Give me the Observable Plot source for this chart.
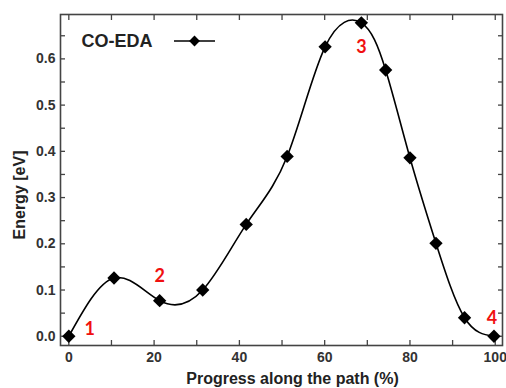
<!DOCTYPE html>
<html>
<head>
<meta charset="utf-8">
<script src="https://cdn.jsdelivr.net/npm/d3@7"></script>
<script src="https://cdn.jsdelivr.net/npm/@observablehq/plot@0.6"></script>
<style>
  html, body { margin: 0; padding: 0; background: #fff; }
  #chart { position: relative; width: 506px; height: 388px; }
</style>
</head>
<body>
<div id="chart"></div>
<script>
// Data
const progress = [0, 10.6, 21.3, 31.4, 41.6, 51.2, 60.1, 68.6, 74.3, 80.0, 86.1, 92.8, 99.7];
const energy   = [0.000, 0.126, 0.077, 0.100, 0.242, 0.389, 0.626, 0.678, 0.576, 0.386, 0.201, 0.040, 0.000];
const seriesName = "CO-EDA";
const xTicks = [0, 20, 40, 60, 80, 100];
const xMinorTicks = [0, 10, 20, 30, 40, 50, 60, 70, 80, 90, 100];
const yTicks = [0, 0.1, 0.2, 0.3, 0.4, 0.5, 0.6];
const yMinorTicks = [0, 0.05, 0.1, 0.15, 0.2, 0.25, 0.3, 0.35, 0.4, 0.45, 0.5, 0.55, 0.6, 0.65];
const stateLabels = ["1", "2", "3", "4"];
const stateIndex = [0, 2, 7, 12]; // point each state label refers to
const xTitle = "Progress along the path (%)";
const yTitle = "Energy [eV]";

const data = progress.map((x, i) => ({x, y: energy[i]}));
const font = "'Liberation Sans', Arial, sans-serif";
const red = "#f01010";
const labelOffsets = [[21, -7], [0, -24], [0, 24], [-2, -18]];

const stateMarks = stateLabels.map((t, k) =>
  Plot.text([data[stateIndex[k]]], {
    x: "x", y: "y", text: () => t,
    dx: labelOffsets[k][0], dy: labelOffsets[k][1],
    fill: red, fontSize: 18, fontWeight: "bold",
    fontFamily: "Lato, 'Open Sans', sans-serif"
  })
);

const plot = Plot.plot({
  width: 506,
  height: 388,
  marginLeft: 60,
  marginRight: 4,
  marginTop: 14,
  marginBottom: 43,
  style: {fontFamily: font, background: "#fff", overflow: "visible"},
  x: {domain: [-1.95, 101.7]},
  y: {domain: [-0.02, 0.696]},
  marks: [
    // inward ticks on all four sides
    Plot.axisX(xMinorTicks, {anchor: "bottom", tickSize: 5, dy: -5, text: null, label: null, stroke: "#444", strokeWidth: 1.3}),
    Plot.axisX(xMinorTicks, {anchor: "top", tickSize: 5, dy: 5, text: null, label: null, stroke: "#444", strokeWidth: 1.3}),
    Plot.axisY(yMinorTicks, {anchor: "left", tickSize: 5, dx: 5, text: null, label: null, stroke: "#444", strokeWidth: 1.3}),
    Plot.axisY(yMinorTicks, {anchor: "right", tickSize: 5, dx: -5, text: null, label: null, stroke: "#444", strokeWidth: 1.3}),
    // tick labels
    Plot.axisX(xTicks, {anchor: "bottom", tickSize: 0, tickPadding: 7, label: null, fontSize: 14, fontWeight: "bold", fill: "#333"}),
    Plot.axisY(yTicks, {anchor: "left", tickSize: 0, tickPadding: 5, label: null, tickFormat: d3.format(".1f"), fontSize: 14, fontWeight: "bold", fill: "#333"}),
    Plot.frame({stroke: "#444", strokeWidth: 1.6}),
    // curve + points
    Plot.line(data, {x: "x", y: "y", curve: "natural", stroke: "#000", strokeWidth: 1.6}),
    Plot.dot(data, {x: "x", y: "y", symbol: "diamond2", r: 6, fill: "#000", stroke: "none"}),
    ...stateMarks,
    // axis titles
    Plot.text([xTitle], {frameAnchor: "bottom", lineAnchor: "middle", dy: 33, dx: 11, fontSize: 16, fontWeight: "bold", fill: "#222"}),
    Plot.text([yTitle], {frameAnchor: "left", textAnchor: "middle", lineAnchor: "middle", rotate: -90, dx: -41, dy: 15, fontSize: 16, fontWeight: "bold", fill: "#222"}),
    // legend label
    Plot.text([seriesName], {frameAnchor: "top-left", textAnchor: "start", lineAnchor: "middle", dx: 21, dy: 27, fontSize: 18, fontWeight: "bold", fill: "#222"})
  ]
});

// legend sample (line + diamond) next to the legend label
const svg = d3.select(plot);
const lg = svg.append("g").attr("transform", "translate(174,41)");
lg.append("line").attr("x1", 0).attr("x2", 41).attr("y1", 0).attr("y2", 0)
  .attr("stroke", "#000").attr("stroke-width", 1.6);
lg.append("path").attr("d", d3.symbol(d3.symbolDiamond2, 75)())
  .attr("transform", "translate(20.5,0)").attr("fill", "#000");

document.getElementById("chart").appendChild(plot);
</script>
</body>
</html>
